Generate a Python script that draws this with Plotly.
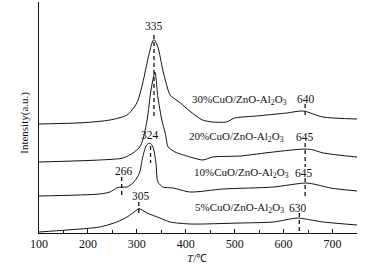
import plotly.graph_objects as go

# ---- data (temperature in °C, intensity in a.u.; curves are vertically offset) ----
t30 = [100, 190, 245, 280, 300, 312, 323, 331, 335, 343, 353, 362, 368, 389, 408, 434, 455, 483, 500, 545, 606, 640, 680, 750]
i30 = [109, 110.3, 113, 118, 130, 150, 175, 190, 193.5, 186, 163, 146, 138, 130, 122, 113, 111, 111, 115, 117, 120, 122, 116, 114]

t20 = [100, 224, 272, 292, 306, 312, 321, 329, 337, 343, 351, 358, 364, 378, 409, 435, 455, 511, 579, 644, 661, 681, 750]
i20 = [71, 73, 75, 80, 86, 93, 113, 143, 161, 136, 113, 100, 86, 81, 76, 73, 76, 77, 81, 84, 83, 80, 76]

t10 = [100, 224, 245, 259, 269, 280, 292, 300, 306, 312, 320, 327, 333, 339, 343, 353, 374, 409, 476, 579, 644, 661, 696, 750]
i10 = [37, 39, 41, 45, 46, 46, 50, 55, 61, 76, 88, 90, 86, 70, 51, 46, 45, 41, 44, 46, 50, 49, 45, 42]

t5 = [100, 157, 224, 259, 280, 300, 304, 321, 347, 368, 409, 511, 579, 628, 644, 681, 750]
i5 = [1, 3, 6, 11, 16, 23, 24.5, 20, 15, 11, 9, 10, 11, 15, 14, 11, 8]

# sample labels
sample_names = ["30%CuO/ZnO-Al<sub>2</sub>O<sub>3</sub>", "20%CuO/ZnO-Al<sub>2</sub>O<sub>3</sub>",
                "10%CuO/ZnO-Al<sub>2</sub>O<sub>3</sub>", "5%CuO/ZnO-Al<sub>2</sub>O<sub>3</sub>"]
name_x = [408, 403, 413, 414]
name_y = [133, 96, 60, 25]

# peak markers
peak_text = ["335", "324", "266", "305", "640", "645", "645", "630"]
peak_x = [335, 328, 269, 304, 644, 644, 644, 632]
dash_top = [198, 87, 56, 31, 129, 90, 55, 20]
dash_bot = [116, 70, 36, 20, 118, 66, 35, 2]
label_x = [335, 327, 273, 308, 646, 644, 642, 630]
label_y = [207, 98, 62, 37, 134, 96, 60, 25]

tick_vals = [100, 200, 300, 400, 500, 600, 700]
tick_text = ["100", "200", "300", "400", "500", "600", "700"]

FONT = "Liberation Serif"

fig = go.Figure()
for tx, iy in [(t30, i30), (t20, i20), (t10, i10), (t5, i5)]:
    fig.add_trace(go.Scatter(x=tx, y=iy, mode="lines",
                             line=dict(color="#111111", width=1, shape="spline", smoothing=0.7),
                             showlegend=False, hoverinfo="skip"))

for px, y0, y1 in zip(peak_x, dash_top, dash_bot):
    fig.add_trace(go.Scatter(x=[px, px], y=[y0, y1], mode="lines",
                             line=dict(color="#111111", width=1.3, dash="4px,3px"),
                             showlegend=False, hoverinfo="skip"))

for txt, lx, ly in zip(peak_text, label_x, label_y):
    fig.add_annotation(x=lx, y=ly, text=txt, showarrow=False, xanchor="center", yanchor="middle",
                       font=dict(family=FONT, size=11.5, color="#111111"))

for txt, lx, ly in zip(sample_names, name_x, name_y):
    fig.add_annotation(x=lx, y=ly, text=txt, showarrow=False, xanchor="left", yanchor="middle",
                       font=dict(family=FONT, size=11, color="#111111"))

# axis titles
fig.add_annotation(xref="paper", yref="paper", x=-0.048, y=0.476, text="Intensity(a.u.)",
                   textangle=-90, showarrow=False, xanchor="center", yanchor="middle",
                   font=dict(family=FONT, size=11, color="#111111"))
fig.add_annotation(xref="paper", yref="paper", x=0.498, y=-0.108, text="<i>T</i>/℃",
                   showarrow=False, xanchor="center", yanchor="middle",
                   font=dict(family=FONT, size=11, color="#111111"))

fig.update_xaxes(range=[100, 750], showline=True, linecolor="#111111", linewidth=1,
                 ticks="inside", ticklen=4, tickcolor="#111111", tickwidth=1,
                 tickvals=tick_vals, ticktext=tick_text,
                 minor=dict(tickvals=[150, 250, 350, 450, 550, 650, 750], ticks="inside", ticklen=3,
                            tickcolor="#111111", tickwidth=1),
                 showgrid=False, zeroline=False,
                 tickfont=dict(family=FONT, size=12, color="#111111"))
fig.update_yaxes(range=[0, 231], showline=True, linecolor="#111111", linewidth=1,
                 showticklabels=False, ticks="", showgrid=False, zeroline=False)

fig.update_layout(width=381, height=270, margin=dict(l=39, r=24, t=2, b=37),
                  plot_bgcolor="white", paper_bgcolor="white")

fig.write_html("out.html", config={"displayModeBar": False},
               post_script="document.body.style.margin='0px';document.body.style.padding='0px';document.body.style.overflow='hidden';")
